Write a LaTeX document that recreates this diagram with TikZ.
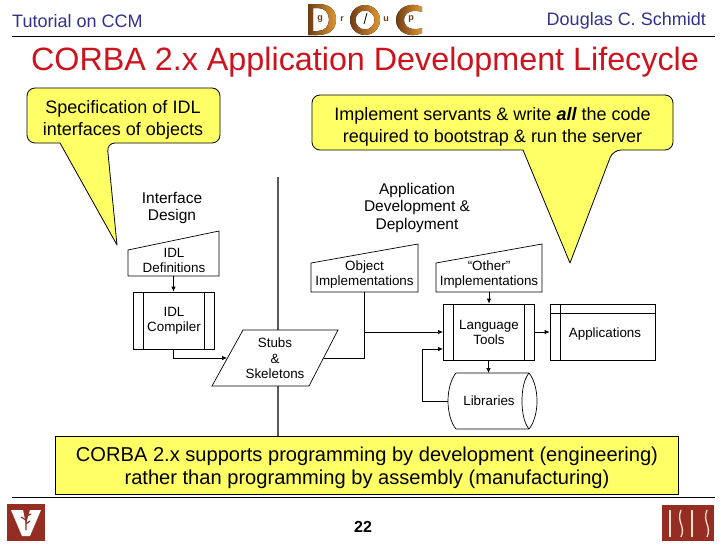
\documentclass[tikz,border=0pt]{standalone}
\usepackage{fontspec}
\setmainfont{Liberation Sans}
\usetikzlibrary{arrows.meta,calc}
\definecolor{calloutyellow}{RGB}{255,255,102}
\definecolor{titlered}{RGB}{204,20,30}
\definecolor{headblue}{RGB}{50,50,140}
\definecolor{logobrown}{RGB}{150,45,35}
\definecolor{logogold}{RGB}{225,150,50}
\definecolor{logodark}{RGB}{110,60,20}
\definecolor{logocream}{RGB}{245,225,205}
\newcommand{\fs}[1]{\fontsize{#1}{#1}\selectfont}
\tikzset{
  flowline/.style={draw=black,line width=0.7pt},
  flowarrow/.style={flowline,-{Latex[length=5pt,width=4.5pt]}},
  flowshape/.style={draw=black,line width=0.7pt,fill=white},
  boxed/.style={flowshape,inner sep=0pt,align=center},
  plain/.style={inner sep=0pt,align=center},
  flowtext/.style={plain,font=\fs{13.4}},
  heading/.style={plain,font=\fs{15.5}},
  callout/.style={draw=black,line width=0.8pt,fill=calloutyellow,line join=round},
  calltext/.style={plain,font=\fs{18}},
  gold/.style={left color=logodark,right color=logogold,even odd rule},
}
\begin{document}
\begin{tikzpicture}[x=1pt,y=-1pt]
\useasboundingbox (0,0) rectangle (728,546);
\fill[white] (0,0) rectangle (728,546);
% header
\node[plain,anchor=west,text=headblue,font=\fs{18}] (hl) at (12,21) {Tutorial on CCM};
\node[plain,anchor=east,text=headblue,font=\fs{18}] (hr) at (706,21) {Douglas C. Schmidt};
\draw[line width=0.8pt] (12,36) -- (715,36);
\node[plain,text=titlered,font=\fs{32.3}] (title) at (365,62) {CORBA 2.x Application Development Lifecycle};
% DOC logo
\fill[gold] (308,4) -- (318,4) .. controls (331,4) and (336,11) .. (336,19.5) .. controls (336,28) and (331,35) .. (318,35) -- (308,35) -- cycle
  (313,8) -- (318,8) .. controls (325,8) and (329,13) .. (329,19.5) .. controls (329,26) and (325,31) .. (318,31) -- (313,31) -- cycle;
\fill[gold] (365,20) circle[radius=15pt] (365,20) circle[radius=9.5pt];
\draw[black,line width=0.8pt] (364,24) -- (367,13);
\fill[gold] (422,7) .. controls (410,1) and (396,8) .. (396,20) .. controls (396,32) and (410,39) .. (422,33) -- (422,28) .. controls (413,31) and (404,28) .. (404,20) .. controls (404,12) and (413,9) .. (422,12) -- cycle;
\node[plain,font=\bfseries\fs{9},text=logodark] (lg) at (320,19) {g};
\node[plain,font=\bfseries\fs{9},text=logodark] (lr) at (342,19) {r};
\node[plain,font=\bfseries\fs{9},text=logodark] (lu) at (386,19) {u};
\node[plain,font=\bfseries\fs{9},text=logodark] (lp) at (411,19) {p};
% vertical divider
\draw[line width=1.8pt,black!65] (278,177) -- (278,436);
% callouts
\draw[callout] (60,143) [rounded corners=8pt] -- (27,143) -- (27,88) -- (220,88) -- (220,143) -- (107,143) [sharp corners] -- (117,245) -- cycle;
\node[calltext] (c1a) at (123,108.5) {Specification of IDL};
\node[calltext] (c1b) at (123,130.5) {interfaces of objects};
\draw[callout] (523,150) [rounded corners=8pt] -- (312,150) -- (312,95) -- (673,95) -- (673,150) -- (613,150) [sharp corners] -- (570,263) -- cycle;
\node[calltext] (c2a) at (492.5,115.5) {Implement servants \& write {\bfseries\itshape all} the code};
\node[calltext] (c2b) at (492.5,138) {required to bootstrap \& run the server};
% headings
\node[heading] (h1) at (172,207.5) {Interface\\[1.5pt]Design};
\node[heading] (h2) at (417,207.5) {Application\\[2pt]Development \&\\[2pt]Deployment};
% IDL definitions
\draw[flowshape] (128,250) -- (219,231) -- (219,276) -- (128,276) -- cycle;
\node[flowtext,minimum width=91pt,minimum height=28pt] (idldefs) at (173.5,262) {};
\node[flowtext] (idldefst) at (174,260.5) {IDL\\[1.6pt]Definitions};
% compiler
\node[boxed,minimum width=81pt,minimum height=57pt] (compiler) at (173.5,320.5) {};
\draw[flowline] (143,292) -- (143,349) (204,292) -- (204,349);
\node[flowtext] (compilert) at (174,320.5) {IDL\\[1.6pt]Compiler};
% stubs
\draw[flowshape] (243,330) -- (338,330) -- (309,386) -- (212,386) -- cycle;
\node[flowtext] (stubs) at (275,358.5) {Stubs\\[2pt]\&\\[2pt]Skeletons};
\coordinate (stubsL) at (227,358);
\coordinate (stubsR) at (324,358);
% object impl
\draw[flowshape] (311,263) -- (418,244) -- (418,292) -- (311,292) -- cycle;
\node[flowtext,minimum width=107pt,minimum height=29pt] (objimpl) at (364.5,277.5) {};
\node[flowtext] (objimplt) at (364.5,275) {Object\\[1.6pt]Implementations};
% other impl
\draw[flowshape] (436,263) -- (542,244) -- (542,292) -- (436,292) -- cycle;
\node[flowtext,minimum width=106pt,minimum height=29pt] (othimpl) at (489,277.5) {};
\node[flowtext] (othimplt) at (489,275) {“Other”\\[1.6pt]Implementations};
% language tools
\node[boxed,minimum width=91pt,minimum height=56pt] (ltools) at (488.5,332) {};
\draw[flowline] (453,304) -- (453,360) (524,304) -- (524,360);
\node[flowtext] (ltoolst) at (489,332.5) {Language\\[1.6pt]Tools};
% applications
\node[boxed,minimum width=105pt,minimum height=56pt] (apps) at (602.5,332) {};
\draw[flowline] (550,313) -- (655,313) (560,304) -- (560,360);
\node[flowtext] (appst) at (605,334) {Applications};
% libraries
\draw[flowshape] (456,373) -- (529,373) .. controls (534,379) and (537,390) .. (537,401) .. controls (537,412) and (534,423) .. (529,429) -- (456,429) .. controls (451,423) and (448,412) .. (448,401) .. controls (448,390) and (451,379) .. (456,373) -- cycle;
\draw[flowline] (529,373) .. controls (524,379) and (522,390) .. (522,401) .. controls (522,412) and (524,423) .. (529,429);
\node[flowtext] (libs) at (489,401) {Libraries};
\coordinate (libsL) at (448,401);
\coordinate (libsTop) at (489,373);
\coordinate (ltIn) at (443,349);
\coordinate (ltOther) at (443,332);
\coordinate (branch) at (364.5,332);
% connectors
\draw[flowarrow] (idldefs.south) -- (compiler.north);
\draw[flowarrow] (compiler.south) |- (stubsL);
\draw[flowline] (objimpl.south) |- (stubsR);
\draw[flowarrow] (branch) -- (ltOther);
\draw[flowarrow] (othimpl.south) -- (ltools.north -| othimpl.south);
\draw[flowarrow] (ltools.south) -- (libsTop -| ltools.south);
\draw[flowarrow] (ltools.east) -- (apps.west);
\draw[flowarrow] (libsL) -- (422,401) |- (ltIn);
% bottom box
\node[draw=black,line width=0.8pt,fill=calloutyellow,minimum width=623pt,minimum height=58pt,inner sep=0pt,align=center] (note) at (366.5,465) {};
\node[plain,font=\fs{20.1}] (n1) at (367,456.5) {CORBA 2.x supports programming by development (engineering)};
\node[plain,font=\fs{20.1}] (n2) at (367,479.5) {rather than programming by assembly (manufacturing)};
% footer
\draw[line width=0.8pt] (12,497) -- (715,497);
\node[plain,font=\bfseries\fs{16}] (page) at (363,527) {22};
% VU logo
\fill[logobrown] (7,504) rectangle (45,541);
\fill[white] (11,510) -- (23,510) -- (26,524) -- (30,510) -- (41,510) -- (30,536) -- (22,536) -- cycle;
\draw[logobrown,line width=1.2pt] (26,512) -- (26,530) (26,516) -- (31,514) (26,520) -- (21,517) (26,524) -- (30,521);
% ISIS logo
\fill[logobrown] (662,505) rectangle (714,541);
\draw[logocream,line width=1.6pt] (670,510) -- (670,537) (692,510) -- (692,537);
\draw[logocream,line width=1.3pt]
 (681,510) .. controls (676,522) and (686,526) .. (681,537)
 (707,510) .. controls (702,522) and (712,526) .. (707,537);
\end{tikzpicture}
\end{document}
